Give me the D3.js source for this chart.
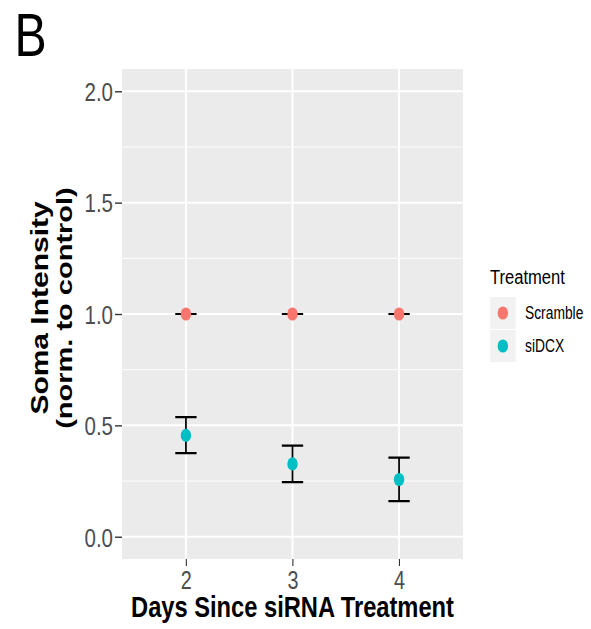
<!DOCTYPE html>
<html>
<head>
<meta charset="utf-8">
<script src="https://cdn.jsdelivr.net/npm/d3@7"></script>
<style>
  body { margin: 0; background: #fff; }
  text { font-family: "Liberation Sans", Arial, Helvetica, sans-serif; }
</style>
</head>
<body>
<svg id="chart" width="591" height="629"></svg>
<script>
// data
const days = [2, 3, 4];
const treatments = ["Scramble", "siDCX"];
const scrambleMean = [1.0, 1.0, 1.0];
const scrambleLo = [1.0, 1.0, 1.0];
const scrambleHi = [1.0, 1.0, 1.0];
const sidcxMean = [0.455, 0.327, 0.257];
const sidcxLo = [0.375, 0.245, 0.16];
const sidcxHi = [0.537, 0.409, 0.355];
const yTicks = [0, 0.5, 1, 1.5, 2];
const yMinor = [0.25, 0.75, 1.25, 1.75];
const colors = ["#F8766D", "#00BFC4"];

// the figure is squeezed horizontally, so draw in a scaled group
const sx = 0.79;
const U = v => v / sx;

const svg = d3.select("#chart");
const g = svg.append("g").attr("transform", `scale(${sx},1)`);

const panel = { left: 122, right: 463, top: 69, bottom: 559 };

const x = d3.scaleLinear().domain([1.4, 4.6]).range([U(panel.left), U(panel.right)]);
const y = d3.scaleLinear().domain([-0.1, 2.1]).range([panel.bottom, panel.top]);

// panel background
g.append("rect")
  .attr("x", U(panel.left)).attr("y", panel.top)
  .attr("width", U(panel.right - panel.left)).attr("height", panel.bottom - panel.top)
  .attr("fill", "#EBEBEB");

// grid
g.selectAll(".minor").data(yMinor).enter().append("line")
  .attr("x1", U(panel.left)).attr("x2", U(panel.right))
  .attr("y1", d => y(d)).attr("y2", d => y(d))
  .attr("stroke", "#fff").attr("stroke-width", 1);
g.selectAll(".major").data(yTicks).enter().append("line")
  .attr("x1", U(panel.left)).attr("x2", U(panel.right))
  .attr("y1", d => y(d)).attr("y2", d => y(d))
  .attr("stroke", "#fff").attr("stroke-width", 2);
g.selectAll(".vmajor").data(days).enter().append("line")
  .attr("x1", d => x(d)).attr("x2", d => x(d))
  .attr("y1", panel.top).attr("y2", panel.bottom)
  .attr("stroke", "#fff").attr("stroke-width", 2.5);

// series
const series = [
  { name: treatments[0], color: colors[0], mean: scrambleMean, lo: scrambleLo, hi: scrambleHi },
  { name: treatments[1], color: colors[1], mean: sidcxMean, lo: sidcxLo, hi: sidcxHi }
];
const capHalf = 0.1;

series.forEach(s => {
  const rows = days.map((d, i) => ({ day: d, mean: s.mean[i], lo: s.lo[i], hi: s.hi[i] }));
  const eb = g.append("g").attr("stroke", "#000").attr("stroke-width", 2.2).attr("fill", "none");
  rows.forEach(r => {
    eb.append("path").attr("d",
      `M${x(r.day - capHalf)},${y(r.hi)}H${x(r.day + capHalf)}` +
      `M${x(r.day - capHalf)},${y(r.lo)}H${x(r.day + capHalf)}` +
      `M${x(r.day)},${y(r.hi)}V${y(r.lo)}`);
  });
});
series.forEach(s => {
  const rows = days.map((d, i) => ({ day: d, mean: s.mean[i] }));
  g.selectAll(null).data(rows).enter().append("circle")
    .attr("cx", d => x(d.day)).attr("cy", d => y(d.mean))
    .attr("r", 6.6).attr("fill", s.color);
});

// axes
const yAxis = g.append("g")
  .attr("transform", `translate(${U(panel.left)},0)`)
  .call(d3.axisLeft(y).tickValues(yTicks).tickFormat(d3.format(".1f")).tickSize(U(7)).tickPadding(U(2)));
yAxis.select(".domain").remove();
yAxis.selectAll("line").attr("stroke", "#333").attr("stroke-width", 1.4);
yAxis.selectAll("text").attr("fill", "#4D4D4D").attr("font-size", 26).attr("dy", "0.36em")
  .attr("font-family", "Liberation Sans, Arial, sans-serif");

const xAxis = g.append("g")
  .attr("transform", `translate(0,${panel.bottom})`)
  .call(d3.axisBottom(x).tickValues(days).tickFormat(d3.format("d")).tickSize(7).tickPadding(5));
xAxis.select(".domain").remove();
xAxis.selectAll("line").attr("stroke", "#333").attr("stroke-width", 1.4);
xAxis.selectAll("text").attr("fill", "#4D4D4D").attr("font-size", 25)
  .attr("font-family", "Liberation Sans, Arial, sans-serif");

// axis titles
g.append("text")
  .attr("x", U((panel.left + panel.right) / 2)).attr("y", 617)
  .attr("text-anchor", "middle").attr("font-size", 30).attr("font-weight", "bold")
  .text("Days Since siRNA Treatment");

const yMid = (panel.top + panel.bottom) / 2 - 6;
g.append("text")
  .attr("transform", `translate(${U(47.5)},${yMid}) rotate(-90)`)
  .attr("text-anchor", "middle").attr("font-size", 30).attr("font-weight", "bold")
  .text("Soma Intensity");
g.append("text")
  .attr("transform", `translate(${U(72)},${yMid}) rotate(-90)`)
  .attr("text-anchor", "middle").attr("font-size", 29).attr("font-weight", "bold")
  .text("(norm. to control)");

// legend
const lg = g.append("g");
lg.append("text").attr("x", U(490)).attr("y", 284).attr("font-size", 21).attr("fill", "#000")
  .text("Treatment");
const keyTop = 297, keyH = 32, keyW = U(25.7);
series.forEach((s, i) => {
  const ky = keyTop + i * (keyH + 1);
  lg.append("rect").attr("x", U(490)).attr("y", ky).attr("width", keyW).attr("height", keyH)
    .attr("fill", "#F2F2F2");
  lg.append("circle").attr("cx", U(490) + keyW / 2).attr("cy", ky + keyH / 2).attr("r", 6.6)
    .attr("fill", s.color);
  lg.append("text").attr("x", U(525)).attr("y", ky + keyH / 2 + 6.3).attr("font-size", 17.5)
    .attr("fill", "#000").text(s.name);
});

// panel tag
g.append("text").attr("x", U(14.5)).attr("y", 56).attr("font-size", 61).attr("fill", "#000")
  .text("B");
</script>
</body>
</html>
